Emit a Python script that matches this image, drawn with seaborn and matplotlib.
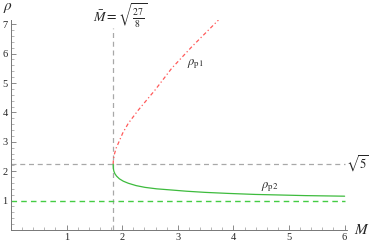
import numpy as np
import pandas as pd
import matplotlib
matplotlib.use("Agg")
import matplotlib.pyplot as plt
import seaborn as sns
from matplotlib.ticker import MultipleLocator

# bifurcation point and reference levels
m_bar = np.sqrt(27 / 8)
rho_bar = np.sqrt(5)
rho_inf = 1.0

# branch rho_p1 (red, dash-dot)
m_p1 = [m_bar, 1.842, 1.86, 1.89, 1.93, 2.01, 2.11, 2.29, 2.59, 2.89, 3.25, 3.73]
rho_p1 = [rho_bar, 2.40, 2.58, 2.78, 2.95, 3.30, 3.63, 4.08, 4.76, 5.50, 6.23, 7.14]

# branch rho_p2 (green, solid)
m_p2 = [m_bar, 1.840, 1.85, 1.87, 1.90, 1.95, 2.02, 2.11, 2.25, 2.41, 2.62, 2.89, 3.15,
        3.49, 3.9, 4.39, 4.85, 5.29, 5.65, 6.0]
rho_p2 = [rho_bar, 2.10, 2.00, 1.91, 1.83, 1.74, 1.66, 1.59, 1.51, 1.45, 1.40, 1.36, 1.32,
          1.28, 1.245, 1.21, 1.19, 1.17, 1.16, 1.15]

x_ticks = [1, 2, 3, 4, 5, 6]
y_ticks = [1, 2, 3, 4, 5, 6, 7]

sns.set_style("ticks")
plt.rcParams["font.family"] = ["Liberation Serif", "DejaVu Serif"]
plt.rcParams["mathtext.fontset"] = "stix"

fig = plt.figure(figsize=(3.74, 2.43), dpi=100)
ax = fig.add_axes([11 / 374, 0.0535, 336.4 / 374, 0.865])

df1 = pd.DataFrame({"M": m_p1, "rho": rho_p1})
df2 = pd.DataFrame({"M": m_p2, "rho": rho_p2})

# guide lines
ax.plot([m_bar, m_bar], [0, 6.87], color="#a8a8a8", lw=0.9, dashes=(4, 3), clip_on=False)
ax.plot([0, 6.0], [rho_bar, rho_bar], color="#a8a8a8", lw=0.9, dashes=(4, 3))
ax.plot([0, 6.0], [rho_inf, rho_inf], color="#44cc44", lw=1.0, dashes=(4, 3))

sns.lineplot(data=df1, x="M", y="rho", ax=ax, sort=False, color="#ff5a5a",
             lw=0.9, estimator=None)
ax.lines[-1].set_dashes((3, 2, 1, 2))
sns.lineplot(data=df2, x="M", y="rho", ax=ax, sort=False, color="#3dbb3d",
             lw=0.9, estimator=None)

ax.set_xlim(0, 6.05)
ax.set_ylim(0, 7.15)
ax.set_xticks(x_ticks)
ax.set_yticks(y_ticks)
ax.xaxis.set_minor_locator(MultipleLocator(0.2))
ax.yaxis.set_minor_locator(MultipleLocator(0.2))
ax.tick_params(which="major", direction="in", length=3.5, width=0.6,
               color="#777777", labelsize=7.5, pad=2.5)
ax.tick_params(which="minor", direction="in", length=2, width=0.5, color="#999999")
for s in ["top", "right"]:
    ax.spines[s].set_visible(False)
for s in ["left", "bottom"]:
    ax.spines[s].set_color("#777777")
    ax.spines[s].set_linewidth(0.7)
ax.set_xlabel("")
ax.set_ylabel("")

# labels
ax.text(6.3, 0.0, r"$M$", fontsize=11, ha="center", va="center", clip_on=False)
ax.text(-0.05, 7.55, r"$\rho$", fontsize=11, ha="center", va="center", clip_on=False)
ax.text(1.97, 7.3, r"$\bar{M}=\sqrt{\frac{27}{8}}$", fontsize=10, ha="center",
        va="center", clip_on=False)
ax.text(6.03, rho_bar, r"$\sqrt{5}$", fontsize=9, ha="left", va="center", clip_on=False)
ax.text(3.31, 5.65, r"$\rho_{\mathrm{p1}}$", fontsize=9, ha="center", va="center")
ax.text(4.66, 1.47, r"$\rho_{\mathrm{p2}}$", fontsize=9, ha="center", va="center")

fig.savefig("out.png", dpi=100)
